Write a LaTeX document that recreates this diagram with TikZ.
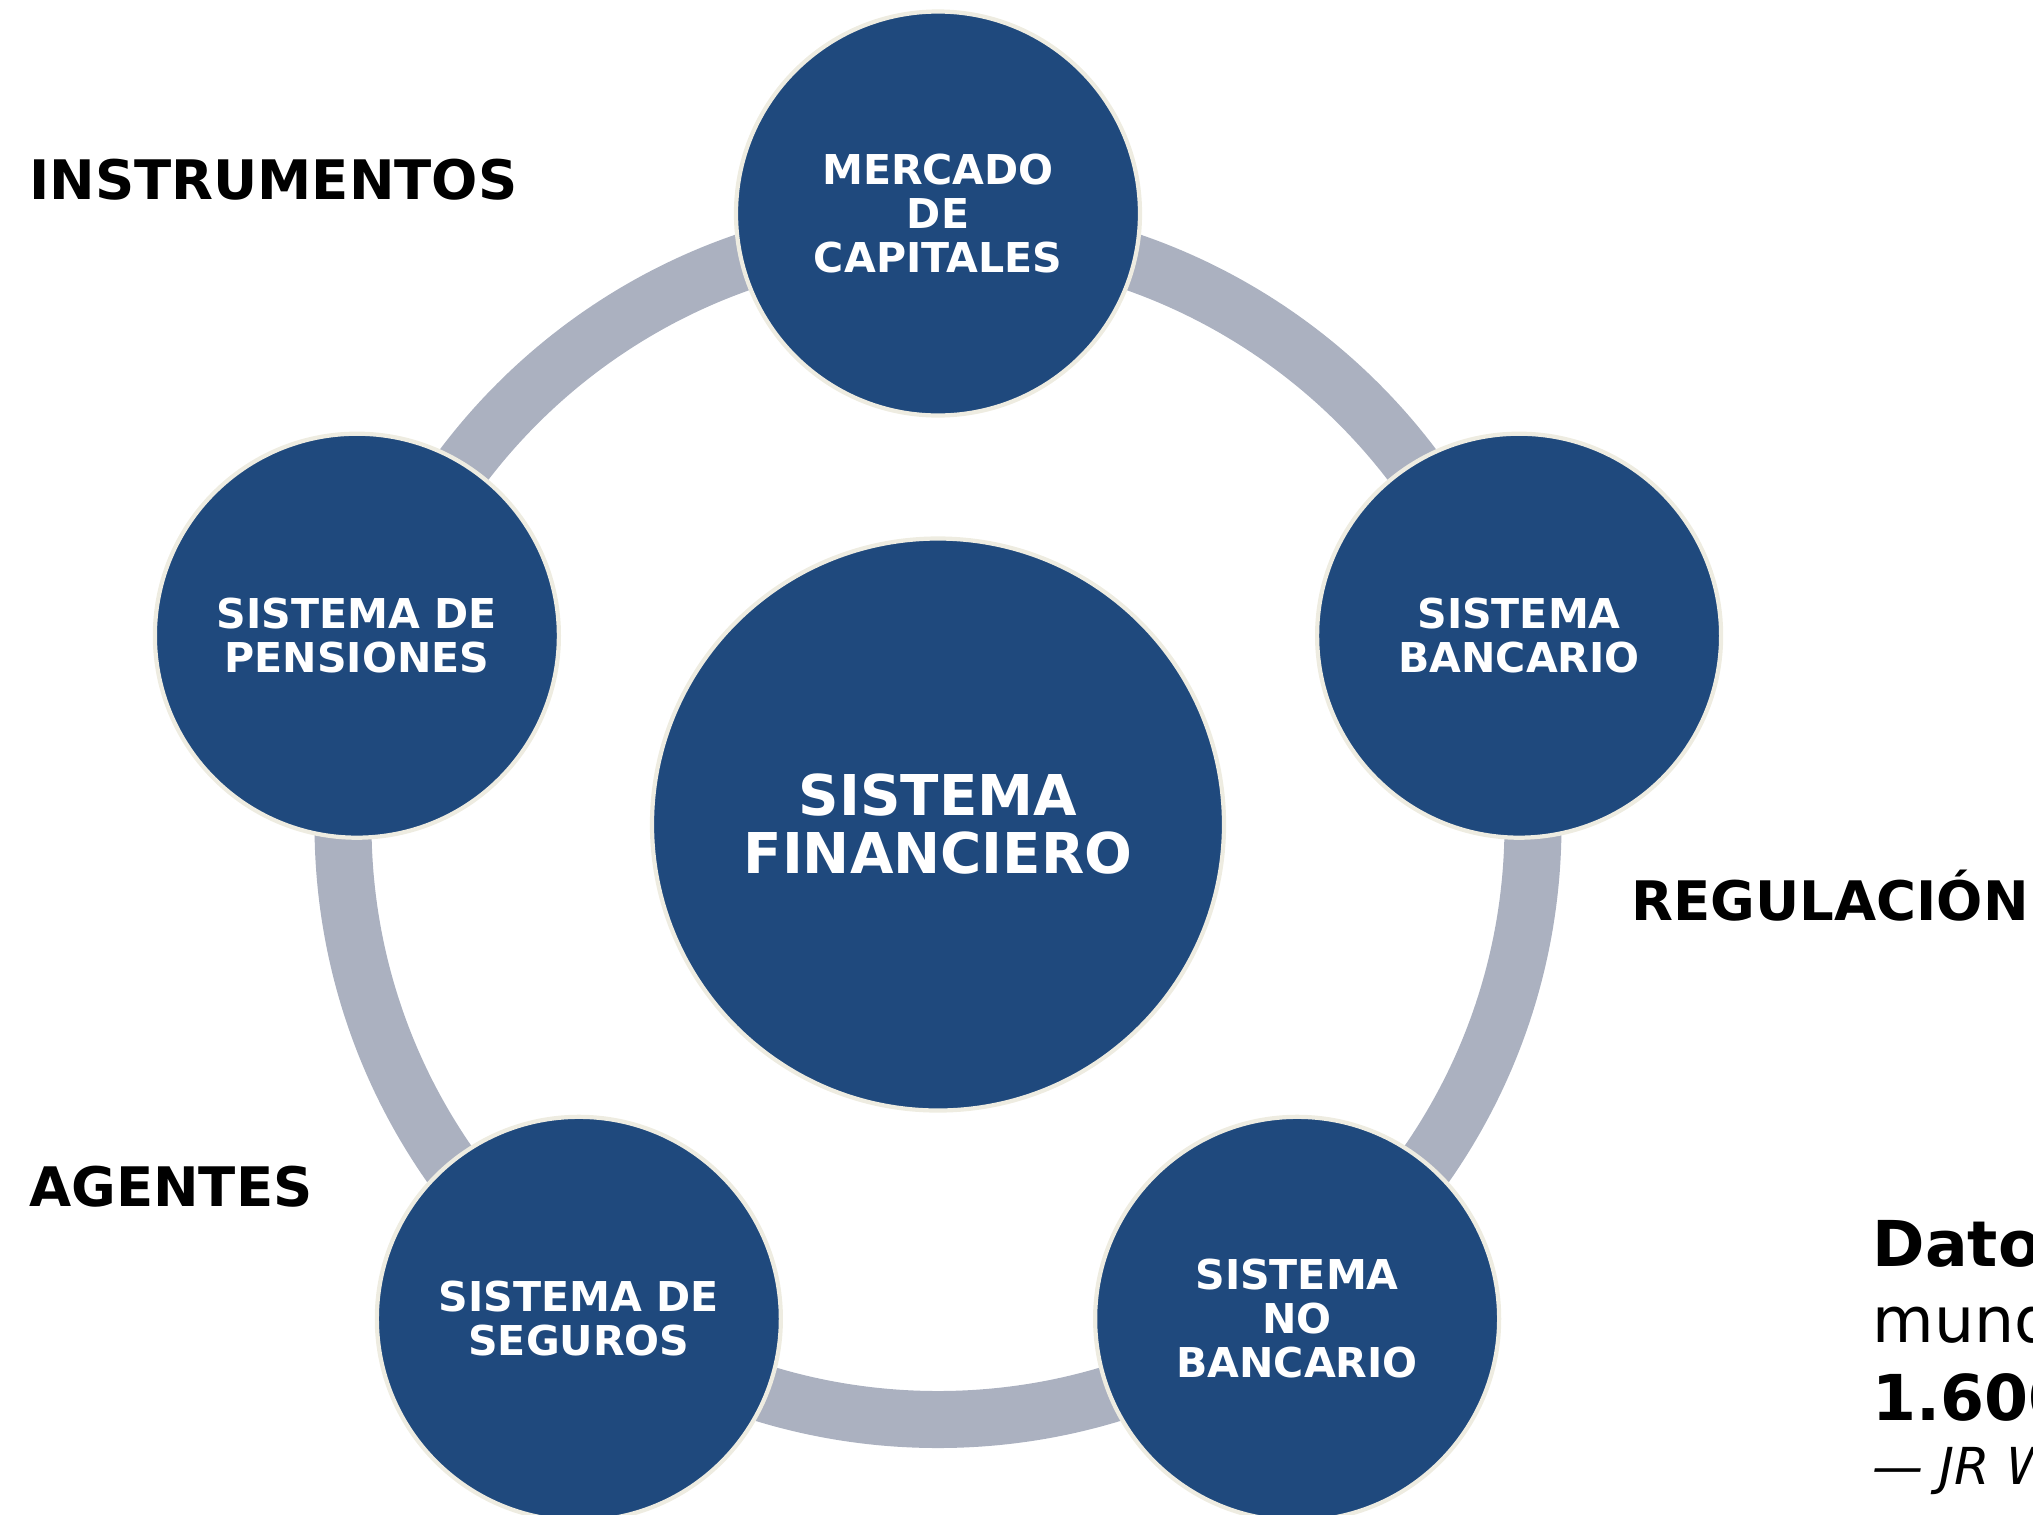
\documentclass[tikz,border=0pt]{standalone}
\usepackage{fontspec}
\setmainfont{DejaVu Sans}
\usepackage{tikz}
\definecolor{sysblue}{HTML}{1F497D}
\definecolor{rimcream}{HTML}{EEECE1}
\definecolor{ringgray}{HTML}{ABB1C0}
\def\ringrad{5.95cm}
\def\noderad{6.11}
\tikzset{
  subsys/.style={circle, fill=sysblue, draw=rimcream, line width=1.2pt,
    minimum size=4.04cm, inner sep=0pt, text=white, align=center,
    font=\bfseries\fontsize{11.7}{12.5}\selectfont},
  mainsys/.style={subsys, minimum size=5.72cm,
    font=\bfseries\fontsize{16}{16.5}\selectfont},
  sidelabel/.style={anchor=base west, inner sep=0pt,
    font=\bfseries\fontsize{15.5}{18}\selectfont},
  quoteline/.style={anchor=base west, inner sep=0pt,
    font=\fontsize{18}{21.6}\selectfont}
}

\begin{document}
\begin{tikzpicture}
    \useasboundingbox (-9.38,-6.895) rectangle (10.95,8.245);
    % ring behind the satellites
    \draw[ringgray, line width=0.57cm] (0,0) circle (\ringrad);
    \node[mainsys] (financiero) at (0,0) {SISTEMA\\FINANCIERO};
    \node[subsys] (mercado) at (90:\noderad) {MERCADO\\DE\\CAPITALES};
    \node[subsys] (bancario) at (18:\noderad) {SISTEMA\\BANCARIO};
    \node[subsys] (nobancario) at (-54:\noderad) {SISTEMA\\NO\\BANCARIO};
    \node[subsys] (seguros) at (-126:\noderad) {SISTEMA DE\\SEGUROS};
    \node[subsys] (pensiones) at (162:\noderad) {SISTEMA DE\\PENSIONES};
    % side labels
    \node[sidelabel] (instrumentos) at (-9.095,6.255) {INSTRUMENTOS};
    \node[sidelabel] (regulacion) at (6.93,-0.955) {REGULACIÓN};
    \node[sidelabel] (agentes) at (-9.095,-3.815) {AGENTES};
    % note, cut by the page edge
    \node[quoteline, font=\bfseries\fontsize{18}{21.6}\selectfont] (dato) at (9.34,-4.415) {Dato};
    \node[quoteline] (mundo) at (9.34,-5.175) {mund};
    \node[quoteline, font=\bfseries\fontsize{18}{21.6}\selectfont] (cifra) at (9.34,-5.955) {1.600};
    \node[quoteline, font=\itshape\fontsize{14.5}{17}\selectfont] (autor) at (9.34,-6.6) {— JR W};
\end{tikzpicture}
\end{document}
